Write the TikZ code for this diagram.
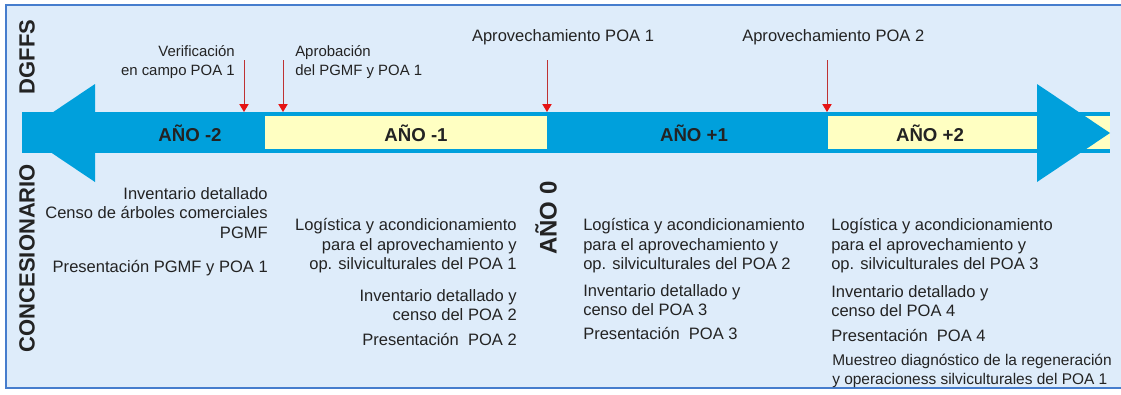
\documentclass[tikz,border=0pt]{standalone}
\usepackage{fontspec}
\setmainfont{Liberation Sans}
\usetikzlibrary{arrows.meta}
\definecolor{bg}{RGB}{222,236,250}
\definecolor{frame}{RGB}{70,125,205}
\definecolor{band}{RGB}{0,160,220}
\definecolor{yel}{RGB}{255,255,194}
\definecolor{txt}{RGB}{35,35,35}
\definecolor{mark}{RGB}{190,50,50}
\definecolor{markhead}{RGB}{230,20,20}
\begin{document}
\begin{tikzpicture}[x=0.75pt,y=-0.75pt,
  lbl/.style={inner sep=0pt, text=txt, font=\fontsize{12.4}{14.6}\selectfont},
  toplbl/.style={inner sep=0pt, text=txt, font=\fontsize{11.2}{14.3}\selectfont},
  small/.style={inner sep=0pt, text=txt, font=\fontsize{11.6}{14.2}\selectfont},
  yearlbl/.style={inner sep=0pt, text=txt, font=\fontsize{14}{16}\selectfont\bfseries},
  side/.style={inner sep=0pt, text=txt, font=\fontsize{16.5}{18}\selectfont\bfseries, rotate=90},
  event/.style={draw=mark, line width=0.7pt, -{Triangle[width=7pt,length=6pt,color=markhead]}},
  bandfill/.style={fill=band, draw=none},
  yelfill/.style={fill=yel, draw=none},
]
\useasboundingbox (0,0) rectangle (1121,394);
% background and frame
\fill[bg] (6,5) rectangle (1121,388);
\draw[frame, line width=1.4pt] (1121,5) -- (6,5) -- (6,388) -- (1121,388);

% timeline band
\fill[bandfill] (22,112) rectangle (1110,153);
\fill[yelfill] (265,116) rectangle (547,149);
\fill[yelfill] (828,116) rectangle (1110,149);
% arrow heads
\fill[bandfill] (95,84) -- (95,182) -- (22,133) -- cycle;
\fill[bandfill] (1037,84) -- (1037,182) -- (1110,133) -- cycle;

% year labels
\node[yearlbl] (y-2) at (190,133) {AÑO -2};
\node[yearlbl] (y-1) at (416,133) {AÑO -1};
\node[yearlbl] (y+1) at (694,133) {AÑO +1};
\node[yearlbl] (y+2) at (930,133) {AÑO +2};
\node[side, font=\fontsize{18}{20}\selectfont\bfseries] (y0) at (546,218) {AÑO 0};

% side labels
\node[side] (dgffs) at (27,57) {DGFFS};
\node[side] (conc) at (27,258) {CONCESIONARIO};

% DGFFS events
\node[toplbl, align=right, anchor=east] (verif) at (235,62.5) {Verificación\\en campo POA 1};
\node[toplbl, align=left, anchor=west] (aprob) at (295,62.5) {Aprobación\\del PGMF y POA 1};
\node[lbl] (aprov1) at (563,37) {Aprovechamiento POA 1};
\node[lbl, anchor=west] (aprov2) at (742,37) {Aprovechamiento POA 2};

\coordinate (e1s) at (244,60); \coordinate (e1e) at (244,112);
\coordinate (e2s) at (283,60); \coordinate (e2e) at (283,112);
\coordinate (e3s) at (547,60); \coordinate (e3e) at (547,112);
\coordinate (e4s) at (827,60); \coordinate (e4e) at (827,112);
\draw[event] (e1s) -- (e1e);
\draw[event] (e2s) -- (e2e);
\draw[event] (e3s) -- (e3e);
\draw[event] (e4s) -- (e4e);

% concesionario tasks
\node[lbl, align=right, anchor=east] (c1a) at (268,213) {Inventario detallado\\Censo de árboles comerciales\\PGMF};
\node[lbl, anchor=east] (c1b) at (268,268) {Presentación PGMF y POA 1};

\node[lbl, align=right, anchor=east] (c2a) at (517,246) {Logística y acondicionamiento\\para el aprovechamiento y\\op. silviculturales del POA 1};
\node[lbl, align=right, anchor=east] (c2b) at (517,305) {Inventario detallado y\\censo del POA 2};
\node[lbl, anchor=east] (c2c) at (517,339) {Presentación\ \ POA 2};

\node[lbl, align=left, anchor=west] (c3a) at (583,246) {Logística y acondicionamiento\\para el aprovechamiento y\\op. silviculturales del POA 2};
\node[lbl, align=left, anchor=west] (c3b) at (583,300) {Inventario detallado y\\censo del POA 3};
\node[lbl, anchor=west] (c3c) at (583,333) {Presentación\ \ POA 3};

\node[lbl, align=left, anchor=west] (c4a) at (831,246) {Logística y acondicionamiento\\para el aprovechamiento y\\op. silviculturales del POA 3};
\node[lbl, align=left, anchor=west] (c4b) at (831,301) {Inventario detallado y\\censo del POA 4};
\node[lbl, anchor=west] (c4c) at (831,335) {Presentación\ \ POA 4};
\node[small, align=left, anchor=west] (c4d) at (832,370.5) {Muestreo diagnóstico de la regeneración\\y operacioness silviculturales del POA 1};
\end{tikzpicture}
\end{document}
